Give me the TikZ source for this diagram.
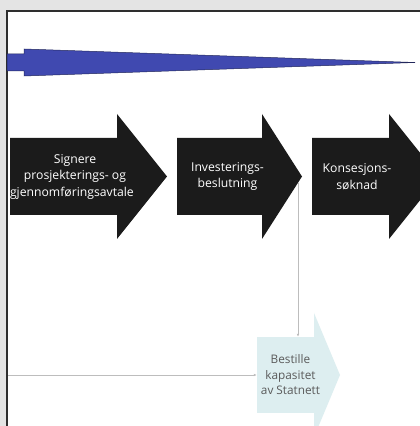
\documentclass[tikz,border=0pt]{standalone}
\usepackage{fontspec}
\setmainfont{Open Sans}
\usepackage{xcolor}
\usetikzlibrary{arrows.meta,calc}
\definecolor{frameGray}{HTML}{E4E4E4}
\definecolor{frameDark}{HTML}{2E2E2E}
\definecolor{wedgeBlue}{HTML}{4049B0}
\definecolor{wedgeEdge}{HTML}{23285C}
\definecolor{stageBlack}{HTML}{1B1B1B}
\definecolor{orderBlue}{HTML}{DDEEF0}
\definecolor{orderText}{HTML}{5A5A5A}
\definecolor{linkGray}{HTML}{BDBDBD}
\tikzset{
  stageShape/.style={fill=stageBlack, draw=none},
  stageText/.style={text=white, inner sep=0pt, align=center, font=\fontsize{12.2}{16.5}\selectfont},
  order/.style={rectangle, draw=none, fill=orderBlue, text=orderText, minimum height=76pt, inner sep=0pt, align=center, font=\fontsize{11.8}{15.5}\selectfont},
  link/.style={-{Latex[length=3pt,width=2.6pt]}, draw=linkGray, line width=0.8pt}
}

\begin{document}
\begin{tikzpicture}[x=1pt,y=1pt]
\clip (0,0) rectangle (420,426);

% --------------------------------------------------------------------------
% Frame
% --------------------------------------------------------------------------
\fill[frameGray] (0,0) rectangle (420,426);
\fill[white] (7,0) rectangle (420,415);
\draw[frameDark, line width=1.6pt] (7,0) -- (7,415) -- (421,415);

% --------------------------------------------------------------------------
% Time wedge
% --------------------------------------------------------------------------
\fill[wedgeBlue, draw=wedgeEdge, line width=0.5pt] (7,372) -- (24,372) -- (24,377) -- (415,363.5) -- (24,350) -- (24,355) -- (7,355) -- cycle;

% --------------------------------------------------------------------------
% Stage arrows
% --------------------------------------------------------------------------
\fill[stageShape] (10,211) -- (10,288) -- (117,288) -- (117,312) -- (167,249.5) -- (117,187) -- (117,211) -- cycle;
\node[stageText] (sign) at (75,249.5) {Signere\\prosjekterings- og\\\makebox[130pt][l]{gjennomføringsavtale}};

\fill[stageShape] (177,211) -- (177,288) -- (262,288) -- (262,312) -- (302,249.5) -- (262,187) -- (262,211) -- cycle;
\node[stageText] (invest) at (227.5,249.5) {Investerings-\\beslutning};

\fill[stageShape] (312,211) -- (312,288) -- (389,288) -- (389,312) -- (439,249.5) -- (389,187) -- (389,211) -- cycle;
\node[stageText] (konsesjon) at (357,249.5) {Konsesjons-\\søknad};

% --------------------------------------------------------------------------
% Capacity order
% --------------------------------------------------------------------------
\fill[orderBlue] (314,113) -- (340,51) -- (314,-11) -- cycle;
\node[order, minimum width=67pt] (bestille) at (290.5,51) {Bestille\\kapasitet\\av Statnett};

\coordinate (investDrop) at (298,243.3);
\coordinate (leftEdge) at (8,51);
\draw[link] (investDrop) -- (investDrop |- bestille.north);
\draw[link] (leftEdge) -- (bestille.west);

\end{tikzpicture}
\end{document}
